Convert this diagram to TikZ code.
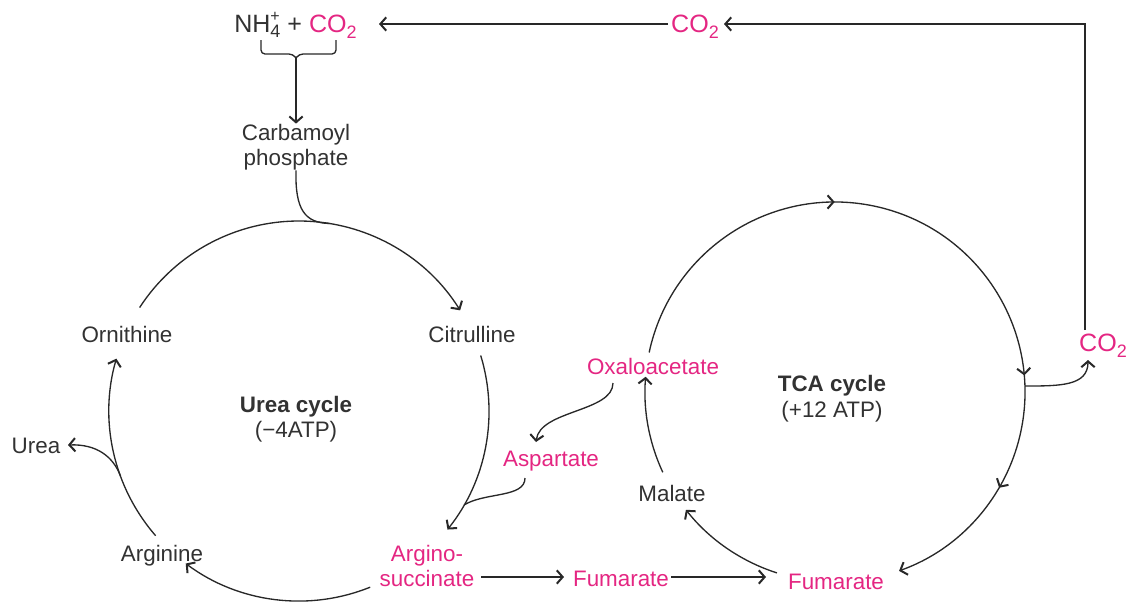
\documentclass[tikz,border=0pt]{standalone}
\usepackage{fontspec}
\setmainfont{Liberation Sans}
\usetikzlibrary{arrows.meta,decorations.markings,calc}
\definecolor{pinkc}{RGB}{228,38,130}
\definecolor{txt}{RGB}{50,50,50}
\definecolor{lnc}{RGB}{40,40,40}
\newcommand{\cotwo}{CO\raisebox{-0.5ex}{\fontsize{13.5}{13.5}\selectfont 2}}
\tikzset{barb/.tip={Straight Barb[length=4.4pt,width=10pt,line width=1.5pt]}}
\begin{document}
\begin{tikzpicture}[x=0.75pt,y=0.75pt,yscale=-1,
  lbl/.style={font=\fontsize{16.8}{19}\selectfont, text=txt, inner sep=0pt, anchor=base},
  plbl/.style={lbl, text=pinkc},
  big/.style={font=\fontsize{18.8}{21}\selectfont},
  ln/.style={draw=lnc, line width=1pt},
  arr/.style={ln, -barb},
  tcamarks/.style={postaction={decorate}, decoration={markings,
     mark=at position 0.327 with {\arrow{barb}},
     mark=at position 0.684 with {\arrow{barb}},
     mark=at position 0.832 with {\arrow{barb}}}}
]
\useasboundingbox (0,0) rectangle (1131,604);
\coordinate (U) at (299,411);
\coordinate (T) at (835,392);

% labels
\node[lbl, big, anchor=base west] (nh) at (234,32) {NH\makebox[0pt][l]{\raisebox{0.8ex}{\fontsize{12}{12}\selectfont +}}\raisebox{-0.45ex}{\fontsize{13.5}{13.5}\selectfont 4}\ + \textcolor{pinkc}{\cotwo}};
\node[plbl, big] (co2t) at (695,32) {\cotwo};
\node[plbl, big] (co2r) at (1103,351) {\cotwo};
\node[lbl, anchor=center, align=center] (carb) at (296,147) {Carbamoyl\\phosphate};
\node[lbl] (orn) at (127,342) {Ornithine};
\node[lbl] (cit) at (472,342) {Citrulline};
\node[lbl] (urea) at (36,453) {Urea};
\node[lbl] (arg) at (162,561) {Arginine};
\node[plbl, anchor=center, align=center] (as) at (427,566) {Argino-\\succinate};
\node[plbl] (asp) at (551,466) {Aspartate};
\node[plbl] (oxa) at (653,374) {Oxaloacetate};
\node[lbl] (mal) at (672,501) {Malate};
\node[plbl] (fum1) at (621,586) {Fumarate};
\node[plbl] (fum2) at (836,589) {Fumarate};
\node[lbl, font=\fontsize{16.8}{19}\selectfont\bfseries] (uc) at (296,412) {Urea cycle};
\node[lbl] (uatp) at (296,437) {(−4ATP)};
\node[lbl, font=\fontsize{16.8}{19}\selectfont\bfseries] (tc) at (832,391) {TCA cycle};
\node[lbl] (tatp) at (832,417) {(+12 ATP)};

% bracket and carbamoyl
\draw[ln, rounded corners=3] (261,40) |- (293,54) -- (296,58);
\draw[ln, rounded corners=3] (336,40) |- (299,54) -- (296,58);
\coordinate (brk) at (296,58);
\draw[arr] (brk) -- (carb.north);
\draw[ln] (carb.south) .. controls (295,210) and (305,223) .. (330,223.5);

% urea cycle
\draw[arr] ($(U)+(-147:190)$) arc[start angle=-147,end angle=-32,radius=190];
\draw[arr] ($(U)+(-17:190)$) arc[start angle=-17,end angle=38.6,radius=190];
\draw[arr] ($(U)+(68:190)$) arc[start angle=68,end angle=126.6,radius=190];
\draw[arr] ($(U)+(139:190)$) arc[start angle=139,end angle=196,radius=190];
\coordinate (ureatip) at (68,445);
\draw[arr] ($(U)+(160:190)$) .. controls (113,456) and (96,444) .. (ureatip);

% aspartate links
\draw[arr] (613,383) .. controls (613,412) and (540,410) .. (536,442);
\draw[ln] (525,478) .. controls (525,498) and (485,492) .. (464,505);

% horizontal arrows
\draw[arr] (481,577) -- (564,577);
\draw[arr] (671,577) -- (766,577);

% TCA cycle
\draw[arr, tcamarks] ($(T)+(192:190)$) arc[start angle=192,end angle=430.3,radius=190];
\draw[arr] ($(T)+(107.8:190)$) arc[start angle=107.8,end angle=141.7,radius=190];
\draw[arr] ($(T)+(155:190)$) arc[start angle=155,end angle=184.6,radius=190];

% CO2 loop
\draw[arr] (1025,386) .. controls (1060,386) and (1088,386) .. (1088,360);
\draw[arr] (1085,330) -- (1085,24) -- (724,24);
\draw[arr] (668,24) -- (379,24);
\end{tikzpicture}
\end{document}
